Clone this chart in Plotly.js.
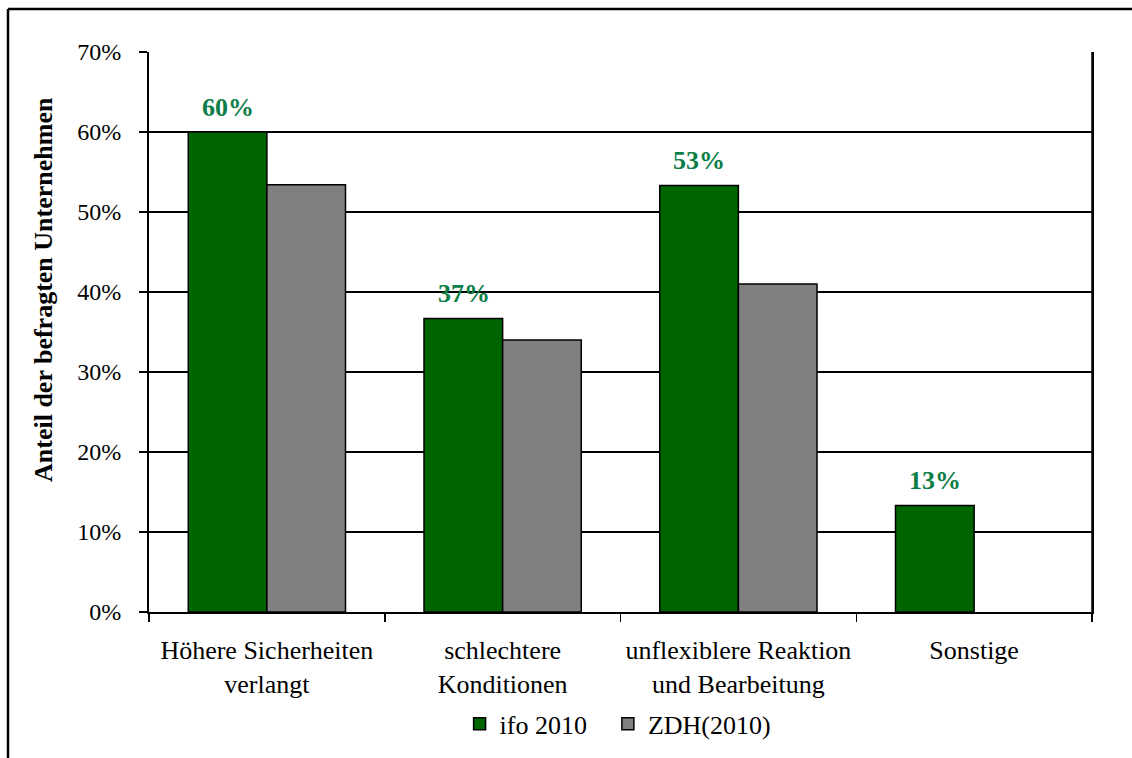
<!DOCTYPE html>
<html>
<head>
<meta charset="utf-8">
<script src="https://cdn.plot.ly/plotly-3.0.1.min.js"></script>
<style>
  html, body { margin: 0; padding: 0; background: #ffffff; }
  #chart { width: 1132px; height: 758px; }
</style>
</head>
<body>
<div id="chart"></div>
<script>
const categories = [
  "Höhere Sicherheiten<br>verlangt",
  "schlechtere<br>Konditionen",
  "unflexiblere Reaktion<br>und Bearbeitung",
  "Sonstige"
];
const ifo2010 = [60.0, 36.7, 53.3, 13.3];
const zdh2010 = [53.4, 34.0, 41.0, null];
const ifoLabels = ["60%", "37%", "53%", "13%"];
const yTickVals = [0, 10, 20, 30, 40, 50, 60, 70];
const yTickText = ["0%", "10%", "20%", "30%", "40%", "50%", "60%", "70%"];

const serif = "Liberation Serif, Times New Roman, serif";

const traces = [
  {
    type: "bar", name: "ifo 2010", x: categories, y: ifo2010, legend: "legend",
    marker: { color: "#006400", line: { color: "#000000", width: 1.5 } },
    hoverinfo: "skip"
  },
  {
    type: "bar", name: "ZDH(2010)", x: categories, y: zdh2010, legend: "legend2",
    marker: { color: "#808080", line: { color: "#000000", width: 1.5 } },
    hoverinfo: "skip"
  }
];

const annotations = categories.map((c, i) => ({
  x: c, y: ifo2010[i], xref: "x", yref: "y",
  text: "<b>" + ifoLabels[i] + "</b>",
  showarrow: false, xshift: -39, yshift: 25, yanchor: "middle",
  font: { family: serif, size: 26, color: "#0B7D47" }
}));
annotations.push({
  xref: "paper", yref: "paper", x: -0.1124, y: 0.575,
  text: "<b>Anteil der befragten Unternehmen</b>", textangle: -90,
  showarrow: false, xanchor: "center", yanchor: "middle",
  font: { family: serif, size: 26, color: "#000000" }
});

const legendBase = {
  orientation: "h", xref: "container", yref: "container",
  xanchor: "left", y: 0.0449, yanchor: "middle",
  font: { family: serif, size: 26, color: "#000000" },
  itemwidth: 30, bgcolor: "rgba(0,0,0,0)"
};

const layout = {
  width: 1132, height: 758,
  margin: { l: 149, r: 40, t: 52, b: 146, autoexpand: false },
  paper_bgcolor: "#ffffff", plot_bgcolor: "#ffffff",
  font: { family: serif, size: 24, color: "#000000" },
  barmode: "group", bargap: 0.333, bargroupgap: 0,
  showlegend: true,
  legend: Object.assign({}, legendBase, { x: 0.406 }),
  legend2: Object.assign({}, legendBase, { x: 0.537 }),
  xaxis: {
    type: "category", tickson: "boundaries", ticks: "outside", ticklen: 8,
    tickcolor: "#000000", tickwidth: 1.5,
    showline: true, linecolor: "#000000", linewidth: 2, mirror: false,
    showgrid: false, tickfont: { family: serif, size: 26, color: "#000000" },
    ticklabelstandoff: 14, fixedrange: true, automargin: false
  },
  yaxis: {
    range: [0, 70], tickvals: yTickVals, ticktext: yTickText,
    ticks: "outside", ticklen: 8, tickcolor: "#000000", tickwidth: 1.5,
    showline: true, linecolor: "#000000", linewidth: 2, mirror: true,
    showgrid: true, gridcolor: "#000000", gridwidth: 1.2, zeroline: false,
    tickfont: { family: serif, size: 24, color: "#000000" },
    ticklabelstandoff: 13, fixedrange: true, automargin: false
  },
  annotations: annotations,
  shapes: [
    { type: "line", xref: "paper", yref: "paper", x0: 1.0, x1: 1.0, y0: 0, y1: 1,
      line: { color: "#000000", width: 1.5 } },
    { type: "line", xref: "paper", yref: "paper",
      x0: (8 - 149) / 943, x1: 1.2, y0: (612 - 9) / 560, y1: (612 - 9) / 560,
      line: { color: "#000000", width: 2.5 } },
    { type: "line", xref: "paper", yref: "paper",
      x0: (8 - 149) / 943, x1: (8 - 149) / 943, y0: (612 - 9) / 560, y1: -0.5,
      line: { color: "#000000", width: 2.5 } }
  ]
};

Plotly.newPlot("chart", traces, layout, { displayModeBar: false, staticPlot: true });
</script>
</body>
</html>
